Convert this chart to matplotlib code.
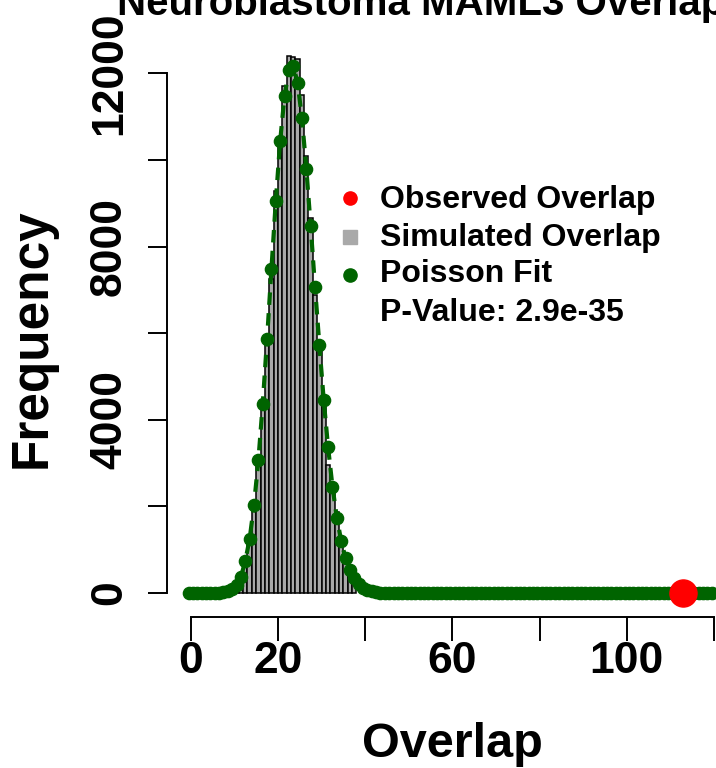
import numpy as np
import matplotlib
matplotlib.use("Agg")
import matplotlib.pyplot as plt

plt.rcParams['font.family'] = ['Liberation Sans', 'DejaVu Sans']
plt.rcParams['font.weight'] = 'bold'

# ---------------- data ----------------
title = "Neuroblastoma MAML3 Overlap"
x_label = "Overlap"
y_label = "Frequency"
legend_labels = ["Observed Overlap", "Simulated Overlap", "Poisson Fit"]
p_value_text = "P-Value: 2.9e-35"

# simulated overlap histogram (bins of width 1, left edges)
sim_bin_left = [10, 11, 12, 13, 14, 15, 16, 17, 18, 19, 20, 21, 22, 23,
                24, 25, 26, 27, 28, 29, 30, 31, 32, 33, 34, 35, 36, 37]
sim_freq = [150, 330, 620, 1150, 1900, 2950, 4250, 5800, 7250, 9280, 10500,
            11700, 12400, 12380, 12330, 11490, 10100, 8670, 6870, 5650, 4350,
            2960, 2450, 1880, 1150, 720, 450, 230]

# Poisson fit (expected frequency at each histogram mid-point)
poisson_x = np.arange(-0.5, 120, 1.0)
poisson_freq = [
    0, 0, 0, 0, 0, 0, 0, 5, 15, 40,
    90, 190, 370, 740, 1250, 2035, 3060, 4370, 5870, 7485,
    9050, 10435, 11475, 12077, 12170, 11785, 10960, 9800, 8470, 7060,
    5718, 4446, 3360, 2458, 1741, 1202, 802, 532, 340, 210,
    125, 70, 40, 20, 10, 5, 0, 0, 0, 0,
    0, 0, 0, 0, 0, 0, 0, 0, 0, 0,
    0, 0, 0, 0, 0, 0, 0, 0, 0, 0,
    0, 0, 0, 0, 0, 0, 0, 0, 0, 0,
    0, 0, 0, 0, 0, 0, 0, 0, 0, 0,
    0, 0, 0, 0, 0, 0, 0, 0, 0, 0,
    0, 0, 0, 0, 0, 0, 0, 0, 0, 0,
    0, 0, 0, 0, 0, 0, 0, 0, 0, 0,
    0,
]
observed_overlap = 113

x_ticks = [0, 20, 40, 60, 80, 100, 120]
x_tick_labels = ["0", "20", "", "60", "", "100", ""]
y_ticks = [0, 2000, 4000, 6000, 8000, 10000, 12000]
y_tick_labels = ["0", "", "4000", "", "8000", "", "12000"]

# ---------------- figure ----------------
W, H = 716, 768
fig = plt.figure(figsize=(W / 100, H / 100), dpi=100)

# axes placed in pixel terms
ax_left_px, ax_right_px = 166.7, 716.0
ax_top_px, ax_bottom_px = 40.0, 617.0
ax = fig.add_axes([ax_left_px / W, 1 - ax_bottom_px / H,
                   (ax_right_px - ax_left_px) / W,
                   (ax_bottom_px - ax_top_px) / H])

x0_px, xunit = 190.8, (713.9 - 190.8) / 120.0
y0_px, yunit = 593.0, (593.0 - 73.3) / 12000.0
ax.set_xlim((ax_left_px - x0_px) / xunit, (ax_right_px - x0_px) / xunit)
ax.set_ylim((y0_px - ax_bottom_px) / yunit, (y0_px - ax_top_px) / yunit)

green = '#006400'
ax.bar(sim_bin_left, sim_freq, width=1.0, align='edge', color='#A9A9A9',
       edgecolor='black', linewidth=1.1, zorder=2)
ax.plot(poisson_x, poisson_freq, color=green, lw=3, linestyle=(0, (3, 2)),
        zorder=3, clip_on=False)
ax.plot(poisson_x, poisson_freq, 'o', color=green, ms=8.8, mec=green,
        zorder=4, clip_on=False)
ax.plot([observed_overlap], [0], 'o', color='red', ms=19.5, mec='red',
        zorder=5, clip_on=False)

for s in ['top', 'right']:
    ax.spines[s].set_visible(False)
ax.spines['left'].set_bounds(0, 12000)
ax.spines['bottom'].set_bounds(0, 120)
for s in ['left', 'bottom']:
    ax.spines[s].set_linewidth(1.4)

ax.set_xticks(x_ticks)
ax.set_xticklabels(x_tick_labels, fontsize=32, fontweight='bold')
ax.set_yticks(y_ticks)
ax.set_yticklabels(y_tick_labels, fontsize=32, fontweight='bold',
                   rotation=90, va='center')
ax.tick_params(axis='x', length=17.5, width=1.4, pad=0)
ax.tick_params(axis='y', length=13.5, width=1.4, pad=13)
ax.patch.set_visible(False)

# title, axis labels (figure pixel placement)
fig.text(117 / W, 1 - 15 / H, title, ha='left', va='baseline',
         fontsize=29, fontweight='bold')
fig.text(452 / W, 1 - 757 / H, x_label, ha='center', va='baseline',
         fontsize=35, fontweight='bold')
fig.text(32 / W, 1 - 338 / H, y_label, ha='center', va='center',
         rotation=90, fontsize=37, fontweight='bold')

# legend in an overlay with pixel coords
ov = fig.add_axes([0, 0, 1, 1])
ov.set_xlim(0, W)
ov.set_ylim(H, 0)
ov.axis('off')
ov.patch.set_visible(False)
ov.plot([350], [198], 'o', color='red', ms=9.5)
ov.plot([350], [237], 's', color='#A9A9A9', ms=9.5)
ov.plot([350], [275], 'o', color=green, ms=9.5)
leg_y = [200, 238, 274]
for lab, yy in zip(legend_labels, leg_y):
    ov.text(380, yy, lab, ha='left', va='center', fontsize=23,
            fontweight='bold')
ov.text(380, 313, p_value_text, ha='left', va='center', fontsize=23,
        fontweight='bold')

fig.savefig('out.png', dpi=100)
